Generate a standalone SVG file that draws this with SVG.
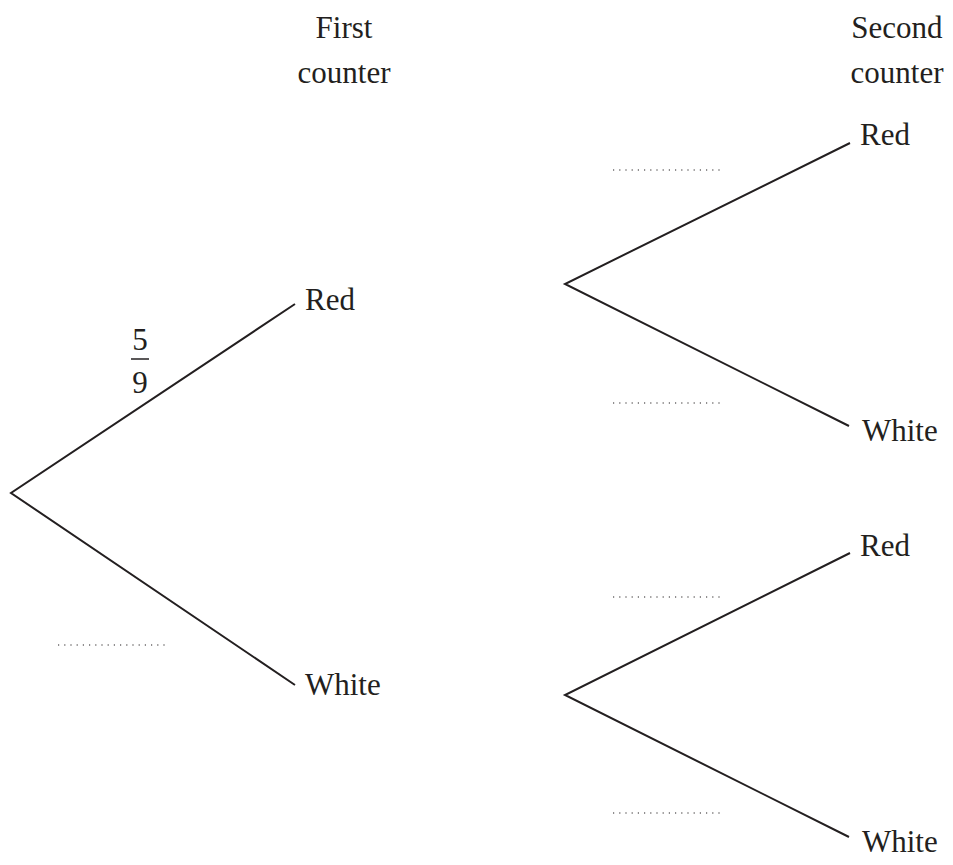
<svg xmlns="http://www.w3.org/2000/svg" width="953" height="865" viewBox="0 0 953 865">
<style>
.b{stroke:#231f20;stroke-width:2;fill:none}
.d{stroke:#231f20;stroke-width:1.2;stroke-dasharray:1.2 5;fill:none}
</style>
<rect width="953" height="865" fill="#fff"/>
<g id="headers">
<text x="344" y="38" text-anchor="middle" font-family="Liberation Serif" font-size="31" fill="#231f20">First</text>
<text x="344" y="83" text-anchor="middle" font-family="Liberation Serif" font-size="31" fill="#231f20">counter</text>
<text x="897" y="38" text-anchor="middle" font-family="Liberation Serif" font-size="31" fill="#231f20">Second</text>
<text x="897" y="83" text-anchor="middle" font-family="Liberation Serif" font-size="31" fill="#231f20">counter</text>
</g>
<g id="first-red"><text x="305" y="310" font-family="Liberation Serif" font-size="31" fill="#231f20">Red</text></g>
<g id="first-white"><text x="305" y="695" font-family="Liberation Serif" font-size="31" fill="#231f20">White</text></g>
<g id="second-red-1"><text x="860" y="145" font-family="Liberation Serif" font-size="31" fill="#231f20">Red</text></g>
<g id="second-white-1"><text x="862" y="441" font-family="Liberation Serif" font-size="31" fill="#231f20">White</text></g>
<g id="second-red-2"><text x="860" y="556" font-family="Liberation Serif" font-size="31" fill="#231f20">Red</text></g>
<g id="second-white-2"><text x="862" y="852" font-family="Liberation Serif" font-size="31" fill="#231f20">White</text></g>
<g id="fraction">
<text x="140" y="350" text-anchor="middle" font-family="Liberation Serif" font-size="31" fill="#231f20">5</text>
<line x1="131" y1="359" x2="149" y2="359" stroke="#231f20" stroke-width="1.5"/>
<text x="140" y="393" text-anchor="middle" font-family="Liberation Serif" font-size="31" fill="#231f20">9</text>
</g>
<g id="connectors">
<polyline class="b" points="295,304 11,493 295,685"/>
<polyline class="b" points="850,143 565,284 849,426"/>
<polyline class="b" points="850,553 565,695 849,837"/>
</g>
<g id="prob-blanks">
<line class="d" x1="58" y1="645" x2="168" y2="645"/>
<line class="d" x1="613" y1="170" x2="723" y2="170"/>
<line class="d" x1="613" y1="403" x2="723" y2="403"/>
<line class="d" x1="613" y1="597" x2="723" y2="597"/>
<line class="d" x1="613" y1="813" x2="723" y2="813"/>
</g>
</svg>
